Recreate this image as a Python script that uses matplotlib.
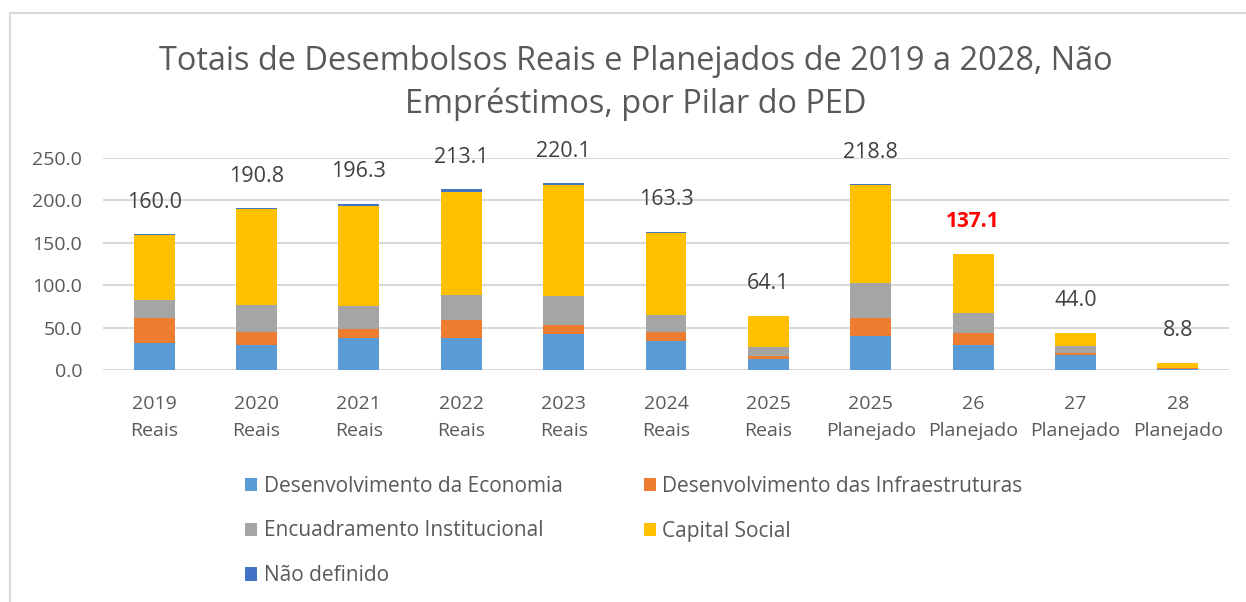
import matplotlib.pyplot as plt
import matplotlib.patches as mpatches
import numpy as np

plt.rcParams['font.family'] = ['Open Sans', 'DejaVu Sans']

categories = ['2019\nReais', '2020\nReais', '2021\nReais', '2022\nReais', '2023\nReais',
              '2024\nReais', '2025\nReais', '2025\nPlanejado', '26\nPlanejado',
              '27\nPlanejado', '28\nPlanejado']

economia = [31.5, 29.9, 37.8, 37.8, 42.1, 34.3, 13.0, 40.6, 29.9, 17.7, 1.6]
infra = [30.3, 15.4, 10.2, 21.3, 10.7, 11.0, 3.5, 21.2, 13.8, 2.0, 0.9]
encuad = [20.9, 31.9, 27.6, 29.9, 35.0, 19.7, 10.3, 40.6, 24.0, 9.0, 0.3]
capital = [76.0, 113.0, 118.1, 121.2, 129.9, 96.4, 36.9, 115.3, 69.4, 15.3, 6.0]
nao_def = [1.3, 0.6, 2.6, 2.9, 2.4, 1.9, 0.4, 1.1, 0.0, 0.0, 0.0]
totals = [160.0, 190.8, 196.3, 213.1, 220.1, 163.3, 64.1, 218.8, 137.1, 44.0, 8.8]

series = [
    ('Desenvolvimento da Economia', economia, '#5B9BD5'),
    ('Desenvolvimento das Infraestruturas', infra, '#ED7D31'),
    ('Encuadramento Institucional', encuad, '#A5A5A5'),
    ('Capital Social', capital, '#FFC000'),
    ('Não definido', nao_def, '#4472C4'),
]

fig = plt.figure(figsize=(12.46, 6.02), dpi=100)
ax = fig.add_axes([103 / 1246, 1 - 370 / 602, (1229 - 103) / 1246, 212 / 602])

x = np.arange(len(categories))
bottom = np.zeros(len(categories))
handles = {}
for name, vals, color in series:
    b = ax.bar(x, vals, 0.4, bottom=bottom, color=color, label=name, zorder=3)
    handles[name] = b
    bottom += np.array(vals)

# total labels above each bar, 2026 highlighted
for i, t in enumerate(totals):
    if i == 8:
        ax.annotate(f'{t:.1f}', (x[i], bottom[i]), xytext=(0, 32), textcoords='offset pixels',
                    ha='center', va='center', fontsize=15, color='#FF0000', fontweight='bold')
    else:
        ax.annotate(f'{t:.1f}', (x[i], bottom[i]), xytext=(0, 32), textcoords='offset pixels',
                    ha='center', va='center', fontsize=15.5, color='#404040')

ax.set_xlim(-0.5, len(categories) - 0.5)
ax.set_ylim(0, 250)
ax.set_yticks(np.arange(0, 251, 50))
ax.set_yticklabels([f'{v:.1f}' for v in np.arange(0, 251, 50)])
ax.set_xticks(x)
ax.set_xticklabels(categories, linespacing=1.62)
ax.tick_params(axis='both', length=0, labelsize=14, colors='#595959')
ax.tick_params(axis='x', pad=18)
ax.tick_params(axis='y', pad=15)
ax.grid(axis='y', color='#D9D9D9', linewidth=1.5, zorder=0)
for s in ax.spines.values():
    s.set_visible(False)

fig.text(0.51, 1 - 62 / 602, 'Totais de Desembolsos Reais e Planejados de 2019 a 2028, Não',
         ha='center', va='center', fontsize=23.4, color='#595959')
fig.text(0.51, 1 - 104 / 602, 'Empréstimos, por Pilar do PED',
         ha='center', va='center', fontsize=23.4, color='#595959')

order = ['Desenvolvimento da Economia', 'Encuadramento Institucional', 'Não definido',
         'Desenvolvimento das Infraestruturas', 'Capital Social']
fig.legend([handles[n] for n in order], order, loc='upper left',
           bbox_to_anchor=(226 / 1246, 1 - 457 / 602), ncol=2, frameon=False,
           fontsize=15, labelcolor='#595959', handlelength=0.6, handleheight=0.6,
           handletextpad=0.3, labelspacing=1.14, columnspacing=3.9)

fig.patches.append(mpatches.Rectangle((10 / 1246, -0.1), 1.2, 1.1 - 13 / 602,
                                      transform=fig.transFigure, fill=False,
                                      edgecolor='#D9D9D9', linewidth=1.5))

fig.savefig('out.png', dpi=100)
